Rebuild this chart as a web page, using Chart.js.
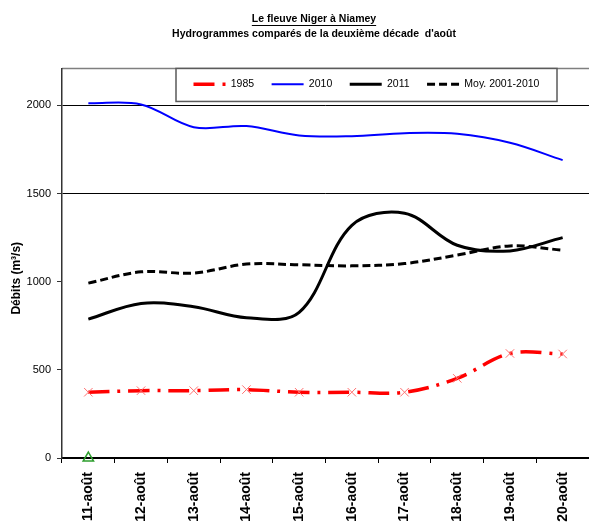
<!DOCTYPE html>
<html>
<head>
<meta charset="utf-8">
<script src="https://cdn.jsdelivr.net/npm/chart.js@4.4.0/dist/chart.umd.min.js"></script>
<style>
  html, body { margin: 0; padding: 0; background: #fff; overflow: hidden; }
</style>
</head>
<body>
<canvas id="hydro" width="589" height="526"></canvas>
<script>
const days = ['11-août', '12-août', '13-août', '14-août', '15-août', '16-août', '17-août', '18-août', '19-août', '20-août'];
const q1985 = [373, 382, 382, 388, 373, 373, 373, 452, 593, 590];
const q2010 = [2013, 2006, 1877, 1883, 1830, 1826, 1843, 1839, 1788, 1690];
const q2011 = [788, 877, 858, 796, 826, 1320, 1389, 1207, 1175, 1250];
const qMoy = [992, 1056, 1049, 1100, 1096, 1090, 1103, 1151, 1203, 1179];
const qMark = [0, null, null, null, null, null, null, null, null, null];
const yTicks = [0, 500, 1000, 1500, 2000];

const FONT = '"Liberation Sans", Arial, sans-serif';
const titleLines = ['Le fleuve Niger à Niamey', "Hydrogrammes comparés de la deuxième décade  d'août"];

// frame, legend box, title shift + underline
const decor = {
  id: 'decor',
  afterLayout(chart) {
    const tb = chart.titleBlock;
    const w = tb.right - tb.left;
    tb.left = 314 - w / 2;
    tb.right = tb.left + w;
    const lg = chart.legend;
    const lw = lg.right - lg.left;
    const lh = lg.bottom - lg.top;
    lg.left = 176;
    lg.right = lg.left + lw;
    lg.top = 61.5;
    lg.bottom = lg.top + lh;
  },
  beforeDraw(chart) {
    const {ctx, chartArea} = chart;
    ctx.save();
    ctx.strokeStyle = '#7f7f7f';
    ctx.lineWidth = 1.5;
    ctx.beginPath();
    ctx.moveTo(chartArea.left, chartArea.top);
    ctx.lineTo(chart.width, chartArea.top);
    ctx.stroke();
    ctx.fillStyle = '#fff';
    ctx.strokeStyle = '#5a5a5a';
    ctx.fillRect(176, chartArea.top, 381, 33);
    ctx.strokeRect(176, chartArea.top, 381, 33);
    ctx.restore();
  },
  afterDraw(chart) {
    const ctx = chart.ctx;
    ctx.save();
    ctx.font = 'bold 10.5px ' + FONT;
    const w = ctx.measureText(titleLines[0]).width;
    ctx.strokeStyle = '#000';
    ctx.lineWidth = 1;
    ctx.beginPath();
    ctx.moveTo(314 - w / 2, 25.5);
    ctx.lineTo(314 + w / 2, 25.5);
    ctx.stroke();
    ctx.restore();
  }
};

new Chart(document.getElementById('hydro'), {
  type: 'line',
  data: {
    labels: days,
    datasets: [
      {
        label: '1985',
        data: q1985,
        borderColor: '#ff0000',
        backgroundColor: '#ff0000',
        borderWidth: 3.5,
        borderDash: [21, 8, 3, 8],
        tension: 0.35,
        pointStyle: 'crossRot',
        pointRadius: 6,
        pointBorderWidth: 1,
        pointBorderColor: '#ff7070'
      },
      {
        label: '2010',
        data: q2010,
        borderColor: '#0000ff',
        backgroundColor: '#0000ff',
        borderWidth: 2,
        tension: 0.35,
        pointRadius: 0
      },
      {
        label: '2011',
        data: q2011,
        borderColor: '#000',
        backgroundColor: '#000',
        borderWidth: 3,
        tension: 0.35,
        pointRadius: 0
      },
      {
        label: 'Moy. 2001-2010',
        data: qMoy,
        borderColor: '#000',
        backgroundColor: '#000',
        borderWidth: 3,
        borderDash: [8, 4],
        tension: 0.35,
        pointRadius: 0
      },
      {
        label: '',
        data: qMark,
        showLine: false,
        pointStyle: 'triangle',
        pointRadius: 6,
        pointBorderWidth: 1.5,
        pointBorderColor: '#2e9e2e',
        pointBackgroundColor: 'rgba(255,255,255,0)',
        clip: false
      }
    ]
  },
  options: {
    responsive: false,
    animation: false,
    events: [],
    layout: { autoPadding: false, padding: { left: 0, right: -5, top: 0, bottom: 0 } },
    plugins: {
      tooltip: { enabled: false },
      title: {
        display: true,
        text: titleLines,
        color: '#000',
        font: { family: FONT, size: 10.5, weight: 'bold', lineHeight: 1.45 },
        padding: { top: 11, bottom: 0 }
      },
      legend: {
        display: true,
        position: 'top',
        align: 'start',
        maxHeight: 27,
        labels: {
          usePointStyle: true,
          pointStyle: 'line',
          pointStyleWidth: 32,
          boxWidth: 32,
          padding: 17.5,
          color: '#000',
          font: { family: FONT, size: 10.5 },
          filter: (item) => item.text !== '',
          generateLabels: (chart) => {
            const items = Chart.defaults.plugins.legend.labels.generateLabels(chart);
            items.forEach((it) => {
              const ds = chart.data.datasets[it.datasetIndex];
              it.strokeStyle = ds.borderColor;
              it.fillStyle = ds.borderColor;
              it.lineWidth = ds.borderWidth;
              it.lineDash = ds.borderDash || [];
              it.pointStyle = 'line';
            });
            return items;
          }
        }
      }
    },
    scales: {
      x: {
        offset: true,
        grid: {
          offset: true,
          drawOnChartArea: false,
          tickLength: 5,
          tickColor: '#000'
        },
        border: { color: '#000', width: 2 },
        ticks: {
          minRotation: 90,
          maxRotation: 90,
          autoSkip: false,
          padding: 9,
          color: '#000',
          font: { family: FONT, size: 14, weight: 'bold' }
        },
        afterFit: (scale) => {
          scale.height = 68;
          scale.paddingRight = -5;
        }
      },
      y: {
        min: 0,
        max: 2210,
        afterBuildTicks: (scale) => { scale.ticks = yTicks.map(v => ({ value: v })); },
        grid: {
          color: (c) => (c.tick && c.tick.value >= 1500 ? '#000' : 'rgba(0,0,0,0)'),
          tickColor: '#333',
          tickLength: 5
        },
        border: { color: '#333', width: 1.5 },
        ticks: {
          padding: 6,
          color: '#000',
          font: { family: FONT, size: 11 },
          callback: (v) => String(v)
        },
        title: {
          display: true,
          text: 'Débits (m³/s)         ',
          color: '#000',
          font: { family: FONT, size: 12, weight: 'bold' },
          padding: { top: 9, bottom: 0 }
        },
        afterFit: (scale) => {
          scale.width = 62;
          scale.paddingRight = -5;
        }
      }
    }
  },
  plugins: [decor]
});
</script>
</body>
</html>
